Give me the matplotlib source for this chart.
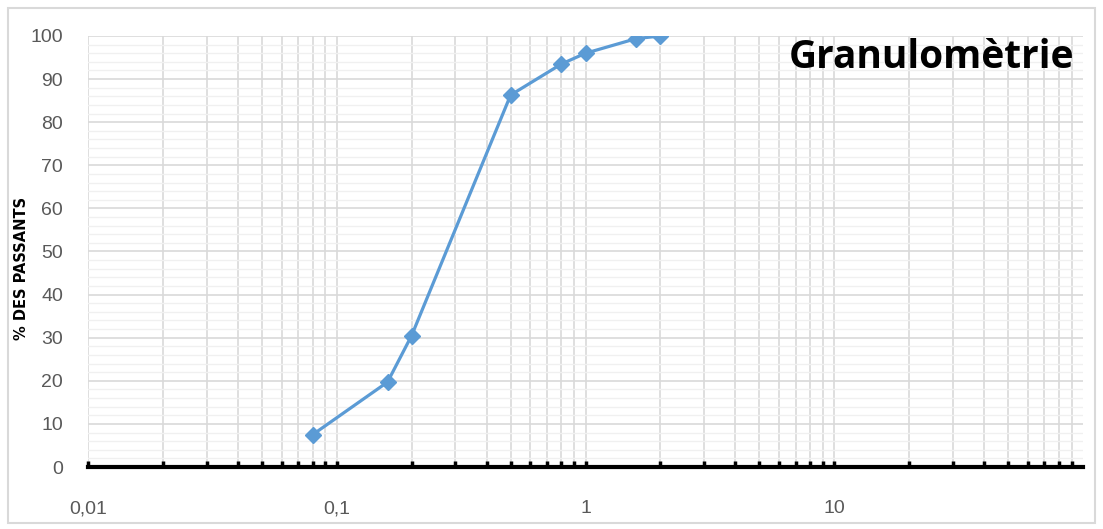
import matplotlib.pyplot as plt
from matplotlib.ticker import LogLocator, FixedLocator, FuncFormatter, NullFormatter

# sieve sizes (mm) and % passing
diam = [0.08, 0.16, 0.2, 0.5, 0.8, 1.0, 1.6, 2.0]
passing = [7.5, 19.7, 30.5, 86.3, 93.5, 96.0, 99.4, 100.0]

x_ticks = [0.01, 0.1, 1, 10]
x_labels = ["0,01", "0,1", "1", "10"]
y_ticks = list(range(0, 101, 10))

fig = plt.figure(figsize=(11.03, 5.29), dpi=100)
ax = fig.add_axes([88 / 1103, 62 / 529, (1083 - 88) / 1103, (467 - 36) / 529])

# light frame around the whole chart
fig.patches.append(plt.Rectangle((8 / 1103, 6 / 529), 1087 / 1103, 515 / 529,
                                 transform=fig.transFigure, fill=False,
                                 edgecolor="#d9d9d9", lw=1.5))

ax.plot(diam, passing, color="#5b9bd5", lw=2.3, marker="D", ms=8.5, zorder=5)

ax.set_xscale("log")
ax.set_xlim(0.01, 100)
ax.set_ylim(0, 100)

ax.xaxis.set_major_locator(FixedLocator(x_ticks))
ax.xaxis.set_major_formatter(FuncFormatter(lambda v, p: x_labels[x_ticks.index(v)] if v in x_ticks else ""))
ax.xaxis.set_minor_locator(LogLocator(base=10, subs=range(2, 10)))
ax.xaxis.set_minor_formatter(NullFormatter())
ax.yaxis.set_major_locator(FixedLocator(y_ticks))
ax.yaxis.set_minor_locator(FixedLocator(range(0, 101, 2)))

ax.grid(which="major", color="#d9d9d9", lw=1.2)
ax.grid(which="minor", axis="x", color="#d9d9d9", lw=1.2)
ax.grid(which="minor", axis="y", color="#f0f0f0", lw=1.0)
ax.set_axisbelow(True)

for s in ["left", "right", "top"]:
    ax.spines[s].set_visible(False)
ax.spines["bottom"].set_color("black")
ax.spines["bottom"].set_linewidth(3)

ax.tick_params(axis="x", which="both", direction="in", length=4, width=2.5, color="black",
               labelsize=14, labelcolor="#595959", pad=24)
ax.tick_params(axis="y", which="both", length=0, labelsize=14, labelcolor="#595959", pad=18)
for lab in ax.get_xticklabels() + ax.get_yticklabels():
    lab.set_fontfamily("Liberation Sans")

fig.text(22 / 1103, 1 - 268 / 529, "% DES PASSANTS", rotation=90, ha="center", va="center",
         fontsize=10.5, fontweight="bold", family="DejaVu Sans")
ax.text(0.991, 0.995, "Granulomètrie", transform=ax.transAxes, ha="right", va="top",
        fontsize=28, fontweight="bold", family="Open Sans", color="black")

fig.savefig("out.png", dpi=100)
